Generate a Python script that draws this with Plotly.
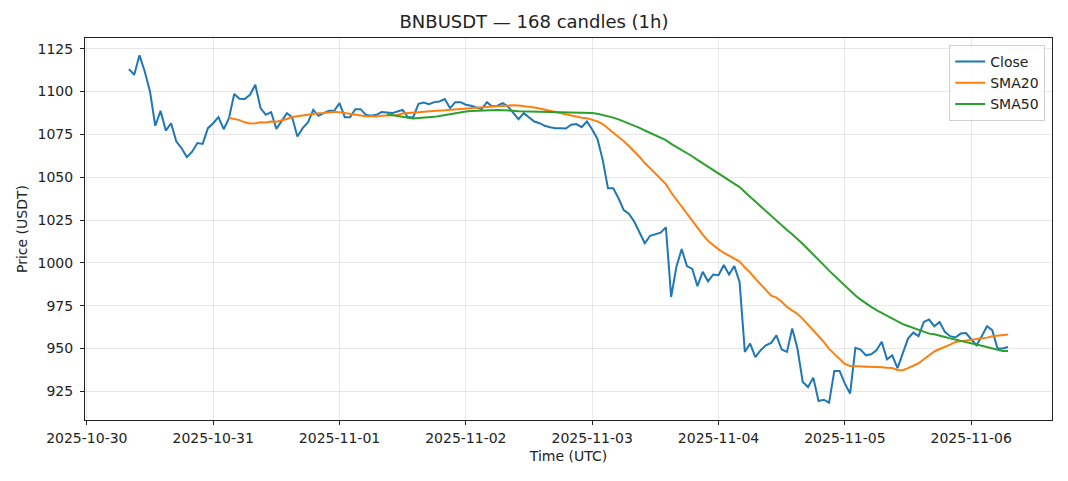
import pandas as pd
import plotly.graph_objects as go

symbol = "BNBUSDT"
start_time = "2025-10-30 08:00"
close = [
    1113.1, 1109.8, 1121.1, 1111.7, 1100.0, 1080.0, 1088.7, 1077.2, 1081.5, 1070.8,
    1066.9, 1061.7, 1064.9, 1069.9, 1069.4, 1078.6, 1081.5, 1085.0, 1078.0, 1084.5,
    1098.6, 1095.8, 1095.6, 1098.1, 1104.0, 1090.3, 1086.4, 1088.0, 1078.2, 1082.5,
    1087.4, 1085.0, 1073.7, 1078.6, 1081.9, 1089.3, 1085.8, 1087.4, 1088.7, 1088.7,
    1093.2, 1085.0, 1085.0, 1089.7, 1089.7, 1086.4, 1085.8, 1086.4, 1088.0, 1087.8,
    1087.4, 1088.3, 1089.3, 1085.0, 1085.0, 1092.8, 1093.6, 1092.6, 1093.8, 1094.2,
    1095.6, 1090.3, 1093.8, 1093.8, 1092.3, 1091.7, 1090.5, 1089.7, 1093.8, 1091.3,
    1091.7, 1093.2, 1091.3, 1087.4, 1083.9, 1087.4, 1084.8, 1082.5, 1081.5, 1080.0,
    1079.2, 1078.6, 1078.6, 1078.4, 1080.6, 1081.0, 1079.2, 1082.5, 1077.8, 1072.3,
    1060.1, 1043.5, 1043.5, 1037.7, 1030.8, 1028.5, 1024.0, 1017.2, 1011.4, 1015.8,
    1016.6, 1017.6, 1020.7, 980.1, 997.7, 1008.0, 998.1, 996.5, 986.4, 994.8,
    989.2, 993.2, 992.8, 998.7, 993.2, 998.1, 988.9, 948.0, 952.9, 945.0,
    949.0, 951.9, 953.3, 957.7, 949.4, 948.0, 961.7, 950.0, 930.4, 927.5,
    933.0, 919.3, 920.1, 918.4, 936.9, 936.9, 929.5, 923.7, 950.4, 949.4,
    946.0, 946.6, 949.0, 953.9, 943.7, 946.0, 938.5, 947.0, 955.8, 959.3,
    957.2, 965.5, 966.9, 963.0, 965.5, 959.7, 957.2, 956.4, 958.7, 959.0,
    955.2, 951.9, 957.2, 963.0, 960.7, 950.0, 950.0, 950.9,
]
y_ticks = [925, 950, 975, 1000, 1025, 1050, 1075, 1100, 1125]
x_ticks = ["2025-10-30", "2025-10-31", "2025-11-01", "2025-11-02",
           "2025-11-03", "2025-11-04", "2025-11-05", "2025-11-06"]

times = pd.date_range(start_time, periods=len(close), freq="h")
s = pd.Series(close, index=times)
sma20 = s.rolling(20).mean()
sma50 = s.rolling(50).mean()

# matplotlib-like 5% margins
span = times[-1] - times[0]
x_range = [times[0] - span * 0.05, times[-1] + span * 0.05]
vmin, vmax = min(close), max(close)
y_range = [vmin - (vmax - vmin) * 0.05, vmax + (vmax - vmin) * 0.05]

font = "DejaVu Sans"
fig = go.Figure()
fig.add_trace(go.Scatter(x=times, y=s.values, mode="lines", name="Close",
                         line=dict(color="#1f77b4", width=2)))
fig.add_trace(go.Scatter(x=times, y=sma20.values, mode="lines", name="SMA20",
                         line=dict(color="#ff7f0e", width=2)))
fig.add_trace(go.Scatter(x=times, y=sma50.values, mode="lines", name="SMA50",
                         line=dict(color="#2ca02c", width=2)))

axis_common = dict(showline=True, linecolor="#222222", linewidth=1, mirror=True,
                   ticks="outside", ticklen=4, tickcolor="#222222",
                   showgrid=True, gridcolor="rgba(0,0,0,0.09)", gridwidth=1,
                   zeroline=False, automargin=False,
                   tickfont=dict(family=font, size=14, color="#222222"))

fig.update_layout(
    width=1068, height=481,
    margin=dict(l=85, r=16, t=38, b=61),
    paper_bgcolor="white", plot_bgcolor="white",
    title=dict(text=f"{symbol} — {len(close)} candles (1h)", x=0.5, xanchor="center",
               y=1 - 22 / 481, yanchor="middle",
               font=dict(family=font, size=18, color="#222222")),
    font=dict(family=font, size=14, color="#222222"),
    legend=dict(x=0.993, y=0.982, xanchor="right", yanchor="top",
                bgcolor="rgba(255,255,255,0.8)", bordercolor="#d0d0d0", borderwidth=1,
                itemwidth=30, tracegroupgap=0,
                font=dict(family=font, size=14, color="#222222")),
    showlegend=True,
)
fig.update_xaxes(**axis_common, range=x_range, tickvals=x_ticks, ticktext=x_ticks,
                 ticklabelstandoff=1,
                 title=dict(text="Time (UTC)", font=dict(family=font, size=14), standoff=6))
fig.update_yaxes(**axis_common, range=y_range, tickvals=y_ticks,
                 ticklabelstandoff=4,
                 title=dict(text="Price (USDT)", font=dict(family=font, size=14), standoff=6))

fig.write_html("out.html", config={"displayModeBar": False},
               post_script="document.body.style.margin='0px';")
